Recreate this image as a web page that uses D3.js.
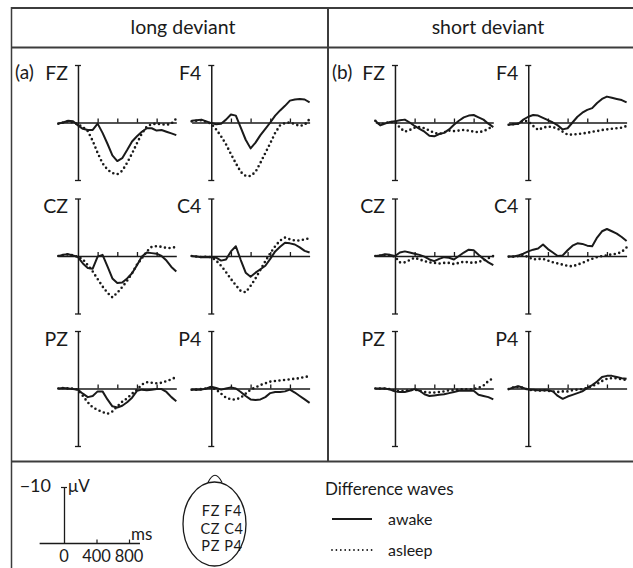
<!DOCTYPE html>
<html>
<head>
<meta charset="utf-8">
<title>Difference waves</title>
<script src="https://cdn.jsdelivr.net/npm/d3@7"></script>
<style>
  body { margin: 0; background: #fff; }
  svg { display: block; font-family: Lato, "Open Sans", sans-serif; }
  text { fill: #1a1a1a; }
</style>
</head>
<body>
<svg width="633" height="568" id="mainsvg"></svg>
<script>
// time points (ms) shared by all waves
const times = [-200, -150, -100, -50, 0, 50, 100, 150, 200, 250, 300, 350, 400, 450, 500, 550, 600, 650, 700, 750, 800, 850, 900, 950, 1000]
const electrodes = ['FZ', 'F4', 'CZ', 'C4', 'PZ', 'P4']
const conditions = ['long deviant', 'short deviant']
const panelTags = ['(a)', '(b)']
const timeTicks = [200, 400, 600, 800]

// amplitudes in µV (negative drawn upward)
const longFZAwake  = [0.2, 0, -0.3, -0.2, 0.5, 1.1, 1.3, 1.3, 0.2, 1.8, 3.7, 5.7, 6.7, 6.2, 4.8, 3.3, 2.4, 1.6, 1.0, 1.0, 1.4, 1.3, 1.6, 1.9, 2.2]
const longFZAsleep = [0.2, 0, -0.2, 0, 0.3, 0.8, 1.5, 3.2, 5.3, 7.1, 8.2, 8.8, 9.0, 8.4, 7.0, 5.4, 3.6, 1.9, 0.7, 0.3, 0.2, 0.3, 0.4, 0.2, -0.7]
const longF4Awake  = [-0.3, -0.4, -0.5, -0.2, 0.1, 0.3, 0.2, -0.5, -1.4, -1.2, 0.9, 3.0, 4.5, 3.5, 2.2, 1.1, 0, -1.2, -2.1, -2.9, -3.8, -4.0, -4.1, -4.0, -3.5]
const longF4Asleep = [-0.2, -0.3, -0.4, -0.1, 0.2, 1.2, 2.4, 3.8, 5.5, 7.1, 8.6, 9.3, 9.3, 8.6, 7.0, 5.3, 3.6, 1.8, 0.5, 0.1, 0, 0.3, 0.6, 0.4, -0.6]
const longCZAwake  = [0, -0.2, -0.3, -0.1, 0.2, 1.3, 2.1, 2.2, 0.1, -0.2, 1.8, 3.9, 4.7, 4.6, 3.9, 3.0, 1.6, 0.1, -0.6, -0.5, -0.4, 0, 0.8, 1.9, 2.7]
const longCZAsleep = [0, -0.2, -0.3, -0.1, 0.1, 0.6, 1.6, 2.7, 4.0, 5.3, 6.4, 7.2, 6.4, 5.4, 4.3, 3.0, 1.5, 0.4, -0.8, -1.6, -1.7, -1.6, -1.4, -1.4, -1.6]
const longC4Awake  = [0, 0.1, 0.2, 0.2, 0.2, 0.3, 0.8, 0.6, -0.8, -1.7, 0.7, 2.9, 3.6, 2.9, 2.3, 1.7, 0.5, -0.8, -1.6, -2.3, -2.2, -2.0, -1.5, -0.9, -0.6]
const longC4Asleep = [0, 0.1, 0.2, 0.1, 0.2, 0.8, 1.7, 2.8, 4.0, 5.1, 6.1, 6.3, 5.2, 3.9, 2.4, 0.9, -0.5, -1.7, -2.7, -3.2, -2.9, -2.7, -2.7, -2.9, -3.1]
const longPZAwake  = [0, -0.1, 0, 0.1, 0.2, 0.9, 1.5, 1.3, 0.5, 0.5, 1.9, 3.1, 3.3, 3.0, 2.4, 1.6, 0.4, 0.2, 0.3, 0.2, 0.1, 0.1, 0.6, 1.5, 2.2]
const longPZAsleep = [0, -0.1, 0, 0, 0.2, 1.3, 2.4, 3.3, 3.7, 4.1, 4.4, 4.0, 3.1, 2.3, 1.7, 0.9, 0.2, -0.7, -1.1, -1.0, -0.9, -1.0, -1.3, -1.6, -2.0]
const longP4Awake  = [0.2, 0.2, 0.2, 0, -0.3, -0.1, 0.2, 0, -0.2, 0, 0.6, 1.3, 1.9, 2.0, 1.9, 1.5, 0.8, 0.6, 0.6, 0.5, 0.2, 0.7, 1.3, 1.9, 2.5]
const longP4Asleep = [0.2, 0.2, 0.1, 0, -0.2, 0.2, 0.9, 1.6, 1.9, 1.9, 1.6, 0.9, 0.2, -0.2, -0.6, -0.9, -1.2, -1.3, -1.4, -1.5, -1.6, -1.7, -1.8, -2.0, -2.15]

const shortFZAwake  = [-0.3, 0.5, 0.2, -0.1, -0.2, -0.4, -0.5, 0, 0.6, 1.1, 1.6, 2.3, 2.4, 2.0, 1.8, 1.2, 0.4, -0.3, -0.9, -1.2, -1.3, -0.9, -0.5, 0.2, 0.8]
const shortFZAsleep = [-0.3, 0.4, 0.1, -0.1, -0.1, 0.9, 1.6, 1.3, 0.9, 0.8, 1.0, 1.4, 1.8, 2.0, 1.7, 1.4, 1.5, 1.4, 1.3, 1.4, 1.6, 1.7, 1.5, 1.1, 0.6]
const shortF4Awake  = [0.4, 0.3, 0.2, -0.5, -1.0, -1.3, -1.2, -0.8, -0.4, 0, 0.5, 1.2, 1.0, 0, -1.0, -1.7, -2.2, -2.5, -3.4, -4.1, -4.5, -4.3, -4.1, -3.9, -3.5]
const shortF4Asleep = [0.4, 0.3, 0.2, -0.3, -0.2, 0.6, 1.3, 0.9, 0.7, 0.8, 1.1, 1.6, 2.1, 2.1, 2.0, 1.9, 1.8, 1.6, 1.5, 1.3, 1.2, 1.1, 1.0, 0.9, 0.6]
const shortCZAwake  = [0, -0.1, -0.3, -0.2, 0, -0.6, -0.8, -0.6, -0.4, -0.2, 0.1, 0.6, 0.9, 0.5, 0.2, 0.3, 0.6, 0, -0.6, -1.1, -1.0, -0.2, 0.5, 1.1, 1.6]
const shortCZAsleep = [0, -0.1, -0.2, -0.1, 0.1, 1.1, 1.1, 0.7, 0.3, 0.6, 0.9, 1.1, 1.2, 1.3, 1.2, 1.2, 1.4, 1.2, 1.0, 1.1, 1.2, 1.0, 0.8, 0.4, 0]
const shortC4Awake  = [0.1, 0.1, -0.1, -0.4, -0.8, -1.1, -1.3, -2.0, -1.2, -0.6, 0, -0.1, -1.0, -1.8, -2.2, -2.1, -1.8, -1.7, -3.2, -4.3, -4.7, -4.3, -3.9, -3.3, -2.6]
const shortC4Asleep = [0.1, 0.1, 0, -0.2, 0.2, 0.6, 0.5, 0.5, 0.8, 1.1, 1.3, 1.5, 1.7, 1.8, 1.5, 1.2, 0.8, 0.5, 0.2, 0, -0.1, -0.3, -0.4, -0.7, -1.5]
const shortPZAwake  = [0, 0, 0, 0.2, 0.5, 0.6, 0.6, 0.4, 0.1, 0.4, 1.0, 1.3, 1.2, 1.1, 1.0, 0.8, 0.6, 0.4, 0.4, 0.4, 0.4, 1.1, 1.3, 1.5, 1.9]
const shortPZAsleep = [0, 0, 0, 0.1, 0.4, 0.5, 0.4, 0.3, 0.2, 0.4, 0.6, 0.7, 0.7, 0.6, 0.5, 0.3, 0.3, 0.2, 0.1, 0.2, 0.1, -0.1, -0.5, -1.3, -1.8]
const shortP4Awake  = [0.1, -0.2, -0.4, -0.1, 0.2, 0.2, 0.3, 0.3, 0.3, 0.5, 1.3, 1.8, 1.4, 1.1, 0.8, 0.5, -0.1, -0.6, -1.2, -2.0, -2.2, -2.2, -2.0, -1.8, -1.7]
const shortP4Asleep = [0.1, -0.2, -0.3, -0.1, 0.2, 0.3, 0.4, 0.3, 0.4, 0.5, 0.6, 0.5, 0.5, 0.3, 0.2, 0.1, -0.1, -0.4, -0.8, -1.3, -1.7, -1.8, -1.8, -1.6, -1.5]

// legend scale bar ticks
const barTicks = [0, 400, 800]
const headRows = ['FZ F4', 'CZ C4', 'PZ P4']
const legendItems = ['awake', 'asleep']

const waves = {
  'long deviant': {
    FZ: [longFZAwake, longFZAsleep], F4: [longF4Awake, longF4Asleep],
    CZ: [longCZAwake, longCZAsleep], C4: [longC4Awake, longC4Asleep],
    PZ: [longPZAwake, longPZAsleep], P4: [longP4Awake, longP4Asleep]
  },
  'short deviant': {
    FZ: [shortFZAwake, shortFZAsleep], F4: [shortF4Awake, shortF4Asleep],
    CZ: [shortCZAwake, shortCZAsleep], C4: [shortC4Awake, shortC4Asleep],
    PZ: [shortPZAwake, shortPZAsleep], P4: [shortP4Awake, shortP4Asleep]
  }
}

const svg = d3.select('svg')
const ink = '#1a1a1a'
const frame = '#3c3c3c'

// frame
const fr = svg.append('g').attr('stroke', frame).attr('fill', 'none')
fr.append('line').attr('x1', 11).attr('x2', 633).attr('y1', 8).attr('y2', 8).attr('stroke-width', 2)
fr.append('line').attr('x1', 11).attr('x2', 633).attr('y1', 47.5).attr('y2', 47.5).attr('stroke-width', 2)
fr.append('line').attr('x1', 11).attr('x2', 633).attr('y1', 461.5).attr('y2', 461.5).attr('stroke-width', 2)
fr.append('line').attr('x1', 11.5).attr('x2', 11.5).attr('y1', 7).attr('y2', 568).attr('stroke-width', 1.5)
fr.append('line').attr('x1', 328).attr('x2', 328).attr('y1', 7).attr('y2', 462).attr('stroke-width', 2)

const colBase = [78, 395]
const colStep = 133.3
const rowZero = [122.5, 256, 388.5]
const headerX = [183, 488]

conditions.forEach((cond, ci) => {
  svg.append('text')
    .attr('x', headerX[ci]).attr('y', 34)
    .attr('text-anchor', 'middle').attr('font-size', 19.5)
    .text(cond)
  svg.append('text')
    .attr('x', colBase[ci] - 63).attr('y', rowZero[0] - 44)
    .attr('font-size', 19)
    .text(panelTags[ci])

  electrodes.forEach((el, ei) => {
    const x0 = colBase[ci] + (ei % 2) * colStep
    const y0 = rowZero[Math.floor(ei / 2)]
    const xScale = d3.scaleLinear().domain([-200, 1000]).range([x0 - 19.7, x0 + 98.3])
    const yScale = d3.scaleLinear().domain([-10, 10]).range([y0 - 57.5, y0 + 57.5])
    const g = svg.append('g')

    // time axis with upward ticks
    const xAxis = d3.axisTop(xScale).tickValues(timeTicks).tickSizeInner(4).tickSizeOuter(0).tickFormat('')
    const xg = g.append('g').attr('transform', `translate(0, ${yScale(0)})`).call(xAxis)
    xg.select('.domain').attr('stroke', ink).attr('stroke-width', 1.5)
    xg.selectAll('.tick line').attr('stroke', ink).attr('stroke-width', 1.3)

    // amplitude axis with caps
    const yAxis = d3.axisLeft(yScale).tickValues([-10, 10]).tickSizeInner(3).tickSizeOuter(0).tickFormat('')
    const yg = g.append('g').attr('transform', `translate(${xScale(0)}, 0)`).call(yAxis)
    yg.select('.domain').attr('stroke', ink).attr('stroke-width', 1.5)
    yg.selectAll('.tick line').attr('x1', 3).attr('x2', -3).attr('stroke', ink).attr('stroke-width', 1.3)

    g.append('text')
      .attr('x', xScale(0) - 10).attr('y', yScale(-10) + 14.5)
      .attr('text-anchor', 'end').attr('font-size', 19.5)
      .text(el)

    const line = d3.line().x((d, i) => xScale(times[i])).y(d => yScale(d))
    const [awake, asleep] = waves[cond][el]
    g.append('path').datum(asleep).attr('d', line)
      .attr('fill', 'none').attr('stroke', ink).attr('stroke-width', 2.6)
      .attr('stroke-linecap', 'round').attr('stroke-dasharray', '0,4.6')
    g.append('path').datum(awake).attr('d', line)
      .attr('fill', 'none').attr('stroke', ink).attr('stroke-width', 2)
      .attr('stroke-linejoin', 'round')
  })
})

// scale bar
const barX = d3.scaleLinear().domain([0, 800]).range([64, 129])
const barY = d3.scaleLinear().domain([-10, 0]).range([487, 543.5])
const bar = svg.append('g')
const bx = bar.append('g').attr('transform', `translate(0, ${barY(0)})`)
  .call(d3.axisTop(barX).tickValues(barTicks.slice(1)).tickSizeInner(4).tickSizeOuter(0).tickFormat(''))
bx.select('.domain').attr('d', `M${barX(-300)},0H${barX(935)}`).attr('stroke', ink).attr('stroke-width', 1.3)
bx.selectAll('.tick line').attr('stroke', ink).attr('stroke-width', 1.2)
const by = bar.append('g').attr('transform', `translate(${barX(0)}, 0)`)
  .call(d3.axisLeft(barY).tickValues([-10]).tickSizeInner(3).tickSizeOuter(0).tickFormat(''))
by.select('.domain').attr('stroke', ink).attr('stroke-width', 1.3)
by.selectAll('.tick line').attr('x1', 3).attr('x2', -3).attr('stroke', ink).attr('stroke-width', 1.2)
bar.selectAll('text.tl').data(barTicks).join('text').attr('class', 'tl')
  .attr('x', d => barX(d)).attr('y', 562).attr('text-anchor', 'middle').attr('font-size', 16.5)
  .text(d => d)
bar.append('text').attr('x', barX(0) - 13).attr('y', barY(-10) + 5).attr('text-anchor', 'end').attr('font-size', 18).text('\u221210')
bar.append('text').attr('x', barX(0) + 4).attr('y', barY(-10) + 5).attr('font-size', 17).text('\u03bcV')
bar.append('text').attr('x', 131).attr('y', 540).attr('font-size', 17).text('ms')

// head schematic
const head = svg.append('g')
head.append('path').attr('d', 'M208,482.5 Q215,468 222,482.5').attr('fill', 'none').attr('stroke', ink).attr('stroke-width', 1.2)
head.append('ellipse').attr('cx', 214.5).attr('cy', 524).attr('rx', 31.5).attr('ry', 42)
  .attr('fill', '#fff').attr('stroke', ink).attr('stroke-width', 1.3)
head.selectAll('text').data(headRows).join('text')
  .attr('x', 222).attr('y', (d, i) => 516 + i * 17.5)
  .attr('text-anchor', 'middle').attr('font-size', 14.5)
  .attr('letter-spacing', 0.6)
  .text(d => d)

// line style legend
const leg = svg.append('g')
leg.append('text').attr('x', 325).attr('y', 495).attr('font-size', 17).text('Difference waves')
legendItems.forEach((name, i) => {
  const ly = 519 + i * 31
  leg.append('line').attr('x1', 332).attr('x2', 372).attr('y1', ly).attr('y2', ly)
    .attr('stroke', ink)
    .attr('stroke-width', i === 0 ? 2 : 1.8)
    .attr('stroke-linecap', i === 0 ? 'butt' : 'round')
    .attr('stroke-dasharray', i === 0 ? null : '0,4.4')
  leg.append('text').attr('x', 388).attr('y', ly + 6).attr('font-size', 16).text(name)
})
</script>
</body>
</html>
